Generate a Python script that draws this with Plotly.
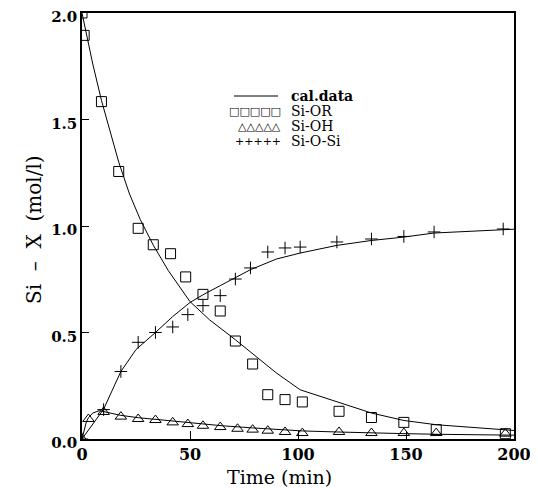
import plotly.graph_objects as go

# ---------------- data ----------------
t_or = [0, 1, 9, 17, 26, 33, 41, 48, 56, 64, 71, 79, 86, 94, 102, 119, 134, 149, 164, 196]
si_or = [2.0, 1.895, 1.584, 1.256, 0.989, 0.912, 0.870, 0.761, 0.679, 0.601, 0.460, 0.352,
         0.208, 0.185, 0.174, 0.130, 0.101, 0.078, 0.044, 0.025]

t_oh = [0, 3, 10, 18, 26, 34, 42, 49, 56, 64, 72, 79, 86, 94, 102, 119, 134, 149, 164, 196]
si_oh = [0.0, 0.094, 0.127, 0.105, 0.094, 0.089, 0.078, 0.070, 0.062, 0.056, 0.048, 0.044,
         0.039, 0.033, 0.028, 0.033, 0.028, 0.028, 0.028, 0.025]

t_osi = [0, 10, 18, 26, 34, 42, 49, 56, 64, 71, 78, 86, 94, 101, 118, 134, 149, 163, 195]
si_o_si = [0.0, 0.138, 0.317, 0.454, 0.500, 0.526, 0.584, 0.626, 0.673, 0.751, 0.803, 0.878,
           0.897, 0.901, 0.925, 0.939, 0.951, 0.972, 0.986]

# calculated curves
tc_or = [0, 1, 3, 5, 9, 13, 17, 22, 27, 33, 40, 50, 59, 71, 79, 90, 101, 118, 134, 149, 164, 200]
cal_or = [2.0, 1.95, 1.85, 1.76, 1.59, 1.44, 1.30, 1.15, 1.03, 0.91, 0.79, 0.645, 0.56, 0.466,
          0.40, 0.31, 0.231, 0.174, 0.122, 0.087, 0.067, 0.040]

tc_oh = [0, 1, 2, 3, 5, 8, 12, 18, 26, 34, 42, 50, 56, 65, 79, 90, 102, 118, 134, 150, 165, 200]
cal_oh = [0.0, 0.045, 0.080, 0.100, 0.122, 0.133, 0.125, 0.111, 0.100, 0.092, 0.082, 0.074,
          0.069, 0.062, 0.052, 0.045, 0.038, 0.033, 0.028, 0.025, 0.022, 0.018]

tc_osi = [0, 10, 18, 25, 34, 42, 50, 56, 64, 71, 78, 90, 101, 118, 134, 149, 163, 200]
cal_osi = [0.0, 0.14, 0.317, 0.42, 0.50, 0.575, 0.641, 0.677, 0.72, 0.756, 0.795, 0.845,
           0.873, 0.909, 0.932, 0.948, 0.967, 0.985]

x_ticks = [0, 50, 100, 150, 200]
y_ticks = [0.0, 0.5, 1.0, 1.5, 2.0]
y_tick_text = ["0.0", "0.5", "1.0", "1.5", "2.0"]

x_title = "Time (min)"
y_title = "Si  \u2013  X  (mol/l)"

legend_labels = ["cal.data", "Si-OR", "Si-OH", "Si-O-Si"]
legend_keys = ["", "\u25a1\u25a1\u25a1\u25a1\u25a1", "\u25b3\u25b3\u25b3\u25b3\u25b3", "+++++"]

# ---------------- figure ----------------
SERIF = "DejaVu Serif"
line_style = dict(color="black", width=1)

fig = go.Figure()
for tx, ty in [(tc_or, cal_or), (tc_oh, cal_oh), (tc_osi, cal_osi)]:
    fig.add_trace(go.Scatter(x=tx, y=ty, mode="lines", line=line_style,
                             showlegend=False, hoverinfo="skip"))

fig.add_trace(go.Scatter(x=t_or, y=si_or, mode="markers", showlegend=False,
                         marker=dict(symbol="square-open", size=10, color="black",
                                     line=dict(width=1, color="black"))))
fig.add_trace(go.Scatter(x=t_oh, y=si_oh, mode="markers", showlegend=False,
                         marker=dict(symbol="triangle-up-open", size=10, color="black",
                                     line=dict(width=1, color="black"))))
fig.add_trace(go.Scatter(x=t_osi, y=si_o_si, mode="markers", showlegend=False,
                         marker=dict(symbol="cross-thin-open", size=9, color="black",
                                     line=dict(width=1, color="black"))))

# page geometry of the plot area (the page has an 8px body margin)
x0 = 82.0
w = 432.0
y0 = 439.0
h = 426.0
def px(xp):
    return (xp - x0) / w
def py(yp):
    return (y0 - yp) / h

# custom legend (matches the five-symbol keys of the original)
rows_y = [96, 111, 126, 141]
for lab, key, ry in zip(legend_labels, legend_keys, rows_y):
    fig.add_annotation(xref="paper", yref="paper", x=px(289), y=py(ry), text=lab,
                       showarrow=False, xanchor="left", yanchor="middle",
                       font=dict(family=SERIF, size=14, color="black",
                                 weight="bold" if lab == "cal.data" else "normal"))
    if key:
        fig.add_annotation(xref="paper", yref="paper", x=px(283), y=py(ry), text=key,
                           showarrow=False, xanchor="right", yanchor="middle",
                           font=dict(family="DejaVu Sans", size=11, color="#000000"))
fig.add_shape(type="line", xref="paper", yref="paper", x0=px(234), x1=px(278),
              y0=py(rows_y[0]), y1=py(rows_y[0]), line=dict(color="black", width=1))

# axis titles placed where the original has them
fig.add_annotation(xref="paper", yref="paper", x=px(279), y=py(477), text=x_title,
                   showarrow=False, xanchor="center", yanchor="middle",
                   font=dict(family=SERIF, size=19, color="black"))
fig.add_annotation(xref="paper", yref="paper", x=px(34), y=py(230), text=y_title,
                   showarrow=False, xanchor="center", yanchor="middle", textangle=-90,
                   font=dict(family=SERIF, size=20, color="black"))

fig.update_xaxes(range=[0, 200], tickvals=x_ticks, ticks="inside", ticklen=8,
                 tickwidth=1, tickcolor="black", showline=True, linecolor="black",
                 linewidth=1.5, mirror=True, showgrid=False, zeroline=False,
                 automargin=False,
                 tickfont=dict(family=SERIF, size=16, color="black", weight="bold"))
fig.update_yaxes(range=[0, 2.0], tickvals=y_ticks, ticktext=y_tick_text, ticks="inside",
                 ticklen=7, tickwidth=1, tickcolor="black", showline=True,
                 linecolor="black", linewidth=1.5, mirror=True, showgrid=False,
                 zeroline=False, automargin=False, ticklabelshift=4,
                 ticklabeloverflow="allow",
                 tickfont=dict(family=SERIF, size=15, color="black", weight="bold"))

fig.update_layout(width=530, height=480, margin=dict(l=74, r=24, t=5, b=49),
                  plot_bgcolor="white", paper_bgcolor="white", showlegend=False)

fig.write_html("out.html")
